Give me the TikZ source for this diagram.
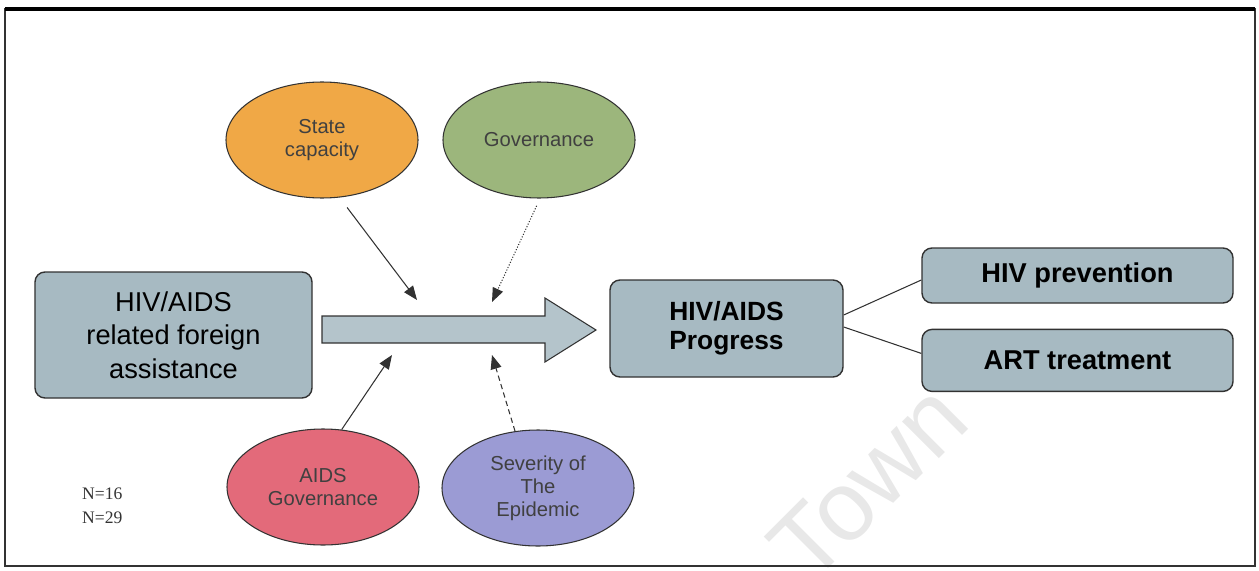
\documentclass[tikz,border=0pt]{standalone}
\usepackage{fontspec}
\setmainfont{Liberation Sans}
\newfontfamily\nfont{Liberation Serif}
\usepackage{xcolor}
\usetikzlibrary{positioning, arrows.meta, shapes.geometric}

\definecolor{boxgray}{RGB}{167,186,194}
\definecolor{caporange}{RGB}{240,168,70}
\definecolor{govgreen}{RGB}{156,182,124}
\definecolor{aidsred}{RGB}{227,106,122}
\definecolor{sevblue}{RGB}{155,155,212}
\definecolor{linegray}{RGB}{50,50,50}

\begin{document}
\begin{tikzpicture}[x=0.2mm, y=-0.2mm,
  box/.style={draw=linegray, line width=0.8pt, fill=boxgray, rounded corners=2mm,
    align=center, inner sep=0pt},
  oval/.style={ellipse, draw=linegray, line width=0.6pt, minimum width=38.4mm,
    minimum height=23.2mm, align=center, inner sep=0pt, text=black!75,
    font=\fontsize{11.5}{13}\selectfont},
  feed/.style={-{Triangle[length=2.8mm, width=2.2mm]}, draw=linegray, line width=0.6pt},
  link/.style={draw=linegray, line width=0.6pt}]
\useasboundingbox (0,0) rectangle (1259,571);

% page frame and watermark
\node[text=black!9, rotate=45, font=\fontsize{56}{56}\selectfont] (town) at (868,482) {Town};
\draw[line width=0.9pt, draw=black!80] (5,9) rectangle (1255,566);
\draw[line width=1.8pt] (5,9) -- (1255,9);

% boxes
\node[box, minimum width=55.4mm, minimum height=25.2mm, font=\fontsize{15.5}{19}\selectfont]
  (aid) at (173.5,335) {HIV/AIDS\\related foreign\\assistance};
\node[box, minimum width=46.6mm, minimum height=19.4mm, font=\bfseries\fontsize{15}{16.5}\selectfont]
  (prog) at (726.5,328.5) {HIV/AIDS\\Progress};
\node[box, minimum width=62.2mm, minimum height=11mm, font=\bfseries\fontsize{15.5}{18}\selectfont]
  (prev) at (1077.5,275.5) {HIV prevention};
\node[box, minimum width=62.2mm, minimum height=12.4mm, font=\bfseries\fontsize{15.5}{18}\selectfont,
  below=5mm of prev] (art) {ART treatment};

% big arrow
\draw[draw=linegray, line width=0.6pt, fill=boxgray!85] (322,316) -- (545,316) -- (545,298)
  -- (596,330) -- (545,362) -- (545,343) -- (322,343) -- cycle;

% factors
\node[oval, fill=caporange] (cap) at (322,140) {State\\capacity};
\node[oval, fill=govgreen] (gov) at (539,140) {Governance};
\node[oval, fill=aidsred] (aidsgov) at (323,487) {AIDS\\Governance};
\node[oval, fill=sevblue] (sev) at (538,488) {Severity of\\The\\Epidemic};

\coordinate (capT) at (417,300);
\coordinate (govT) at (492,302);
\coordinate (aidsT) at (392,355);
\coordinate (sevT) at (492,355);

\draw[feed, shorten <=2.5mm] (cap.-73) -- (capT);
\draw[feed, densely dotted, shorten <=1.6mm] (gov.-89) -- (govT);
\draw[feed] (aidsgov.72) -- (aidsT);
\draw[feed, densely dashed] (sev.112) -- (sevT);

% outcomes
\draw[link] ([yshift=2.7mm]prog.east) -- ([yshift=-0.9mm]prev.west);
\draw[link] ([yshift=0.3mm]prog.east) -- ([yshift=1.4mm]art.west);

\node[anchor=west, align=left, text=black!80, font=\nfont\fontsize{10}{13.5}\selectfont]
  (nlab) at (76,506) {N=16\\N=29};
\end{tikzpicture}
\end{document}
